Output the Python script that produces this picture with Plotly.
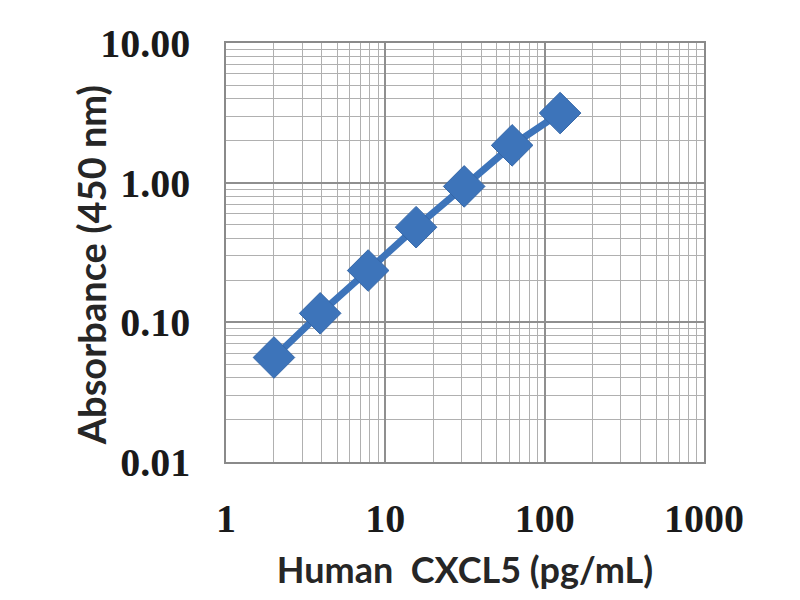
import plotly.graph_objects as go

concentration = [2, 3.9, 7.8, 15.6, 31.25, 62.5, 125]
absorbance = [0.056, 0.116, 0.235, 0.48, 0.94, 1.85, 3.15]

x_tickvals = [1, 10, 100, 1000]
x_ticktext = ["<b>1</b>", "<b>10</b>", "<b>100</b>", "<b>1000</b>"]
y_tickvals = [0.01, 0.1, 1, 10]
y_ticktext = ["<b>0.01</b>", "<b>0.10</b>", "<b>1.00</b>", "<b>10.00</b>"]

fig = go.Figure()
fig.add_trace(go.Scatter(
    x=concentration, y=absorbance, mode="lines+markers",
    line=dict(color="#3d74ba", width=7),
    marker=dict(symbol="diamond", size=32, color="#3d74ba",
                line=dict(color="#3567a8", width=1)),
    showlegend=False,
))

tickfont = dict(family="Liberation Serif", size=40, color="#1a1a1a")

fig.update_xaxes(
    type="log", range=[0, 3],
    tickmode="array", tickvals=x_tickvals, ticktext=x_ticktext,
    tickfont=tickfont,
    title=dict(text="<b>Human&nbsp; CXCL5 (pg/mL)</b>",
               font=dict(family="Lato", size=36, color="#262626"), standoff=18),
    showgrid=True, gridcolor="#8f8f8f", gridwidth=1.5,
    minor=dict(showgrid=True, gridcolor="#b0b0b0", gridwidth=1, dtick="D1"),
    showline=True, linecolor="#8a8a8a", linewidth=1.5, mirror=True,
    ticks="", zeroline=False, ticklabelstandoff=20,
)
fig.update_yaxes(
    type="log", range=[-2, 1],
    tickmode="array", tickvals=y_tickvals, ticktext=y_ticktext,
    tickfont=tickfont,
    showgrid=True, gridcolor="#8f8f8f", gridwidth=1.5,
    minor=dict(showgrid=True, gridcolor="#b0b0b0", gridwidth=1, dtick="D1"),
    showline=True, linecolor="#8a8a8a", linewidth=1.5, mirror=True,
    ticks="", zeroline=False, ticklabelstandoff=26,
)
fig.add_annotation(
    text="<b>Absorbance (450 nm)</b>", textangle=-90,
    xref="paper", yref="paper", x=-0.282, y=0.47,
    xanchor="center", yanchor="middle", showarrow=False,
    font=dict(family="Lato", size=38, color="#262626"),
)
fig.update_layout(
    width=800, height=600,
    margin=dict(l=218, r=104, t=35, b=146),
    plot_bgcolor="white", paper_bgcolor="white",
    font=dict(family="Liberation Serif"),
)
fig.write_html("out.html")
